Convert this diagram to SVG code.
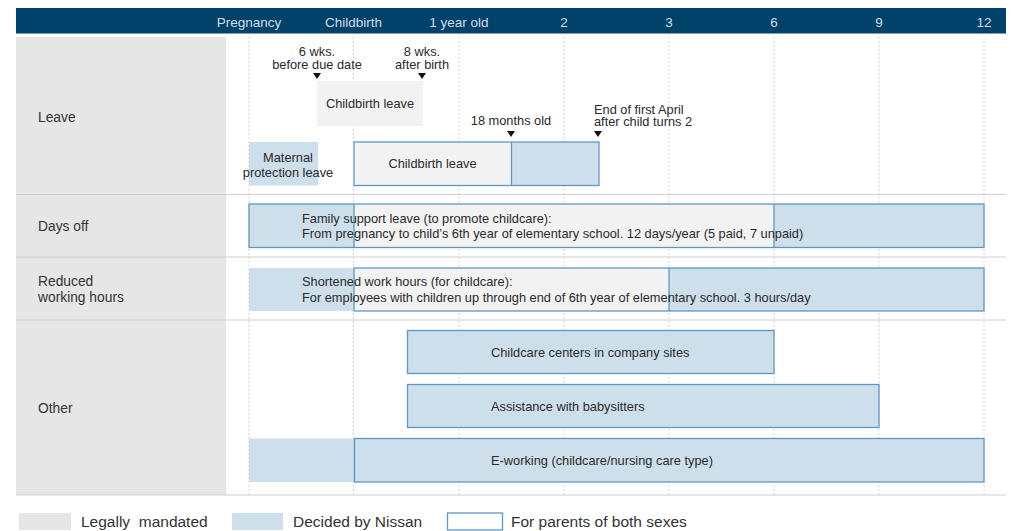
<svg xmlns="http://www.w3.org/2000/svg" width="1015" height="531" viewBox="0 0 1015 531">
<style>
text{font-family:"Liberation Sans",Arial,sans-serif;fill:#2a2a2a;font-size:12.8px}
.hd{fill:#d3dde6;font-size:13.5px;text-anchor:middle}
.lbl{font-size:13.8px;fill:#333}
.c{text-anchor:middle}
.leg{font-size:15.5px;fill:#333;white-space:pre}
.blue{fill:#cddfeb}
.gray{fill:#f2f2f2}
.bs{fill:none;stroke:#5c98c3;stroke-width:1.3}
.grid{stroke:#c4c4c4;stroke-width:1;stroke-dasharray:1.5 2.5}
.sep{stroke:#cfcfcf;stroke-width:1.2}
.tri{fill:#111}
</style>
<rect x="0" y="0" width="1015" height="531" fill="#fff"/>
<g id="header">
<rect x="16" y="8" width="990" height="25.5" fill="#00426a"/>
<text class="hd" x="249" y="26.5">Pregnancy</text>
<text class="hd" x="353.5" y="26.5">Childbirth</text>
<text class="hd" x="459" y="26.5">1 year old</text>
<text class="hd" x="564" y="26.5">2</text>
<text class="hd" x="669" y="26.5">3</text>
<text class="hd" x="774" y="26.5">6</text>
<text class="hd" x="879" y="26.5">9</text>
<text class="hd" x="984" y="26.5">12</text>
</g>
<g id="labels">
<rect x="16" y="37" width="210" height="458" fill="#e6e6e6"/>
<text class="lbl" x="38" y="121.5">Leave</text>
<text class="lbl" x="38" y="231">Days off</text>
<text class="lbl" x="38" y="286">Reduced</text>
<text class="lbl" x="38" y="302">working hours</text>
<text class="lbl" x="38" y="413">Other</text>
</g>
<g id="grid">
<line class="grid" x1="249" y1="37" x2="249" y2="495"/>
<line class="grid" x1="353.5" y1="37" x2="353.5" y2="495"/>
<line class="grid" x1="459" y1="37" x2="459" y2="495"/>
<line class="grid" x1="564" y1="37" x2="564" y2="495"/>
<line class="grid" x1="669" y1="37" x2="669" y2="495"/>
<line class="grid" x1="774" y1="37" x2="774" y2="495"/>
<line class="grid" x1="879" y1="37" x2="879" y2="495"/>
<line class="grid" x1="984" y1="37" x2="984" y2="495"/>
<line class="sep" x1="16" y1="194.5" x2="1006" y2="194.5"/>
<line class="sep" x1="16" y1="257" x2="1006" y2="257"/>
<line class="sep" x1="16" y1="320" x2="1006" y2="320"/>
<line class="sep" x1="16" y1="495" x2="1006" y2="495"/>
</g>
<g id="markers">
<path class="tri" d="M313 73h8l-4 6z"/>
<path class="tri" d="M418 73h8l-4 6z"/>
<path class="tri" d="M507 131h8l-4 6z"/>
<path class="tri" d="M594 131h8l-4 6z"/>
</g>
<g id="notes">
<text class="c" x="317" y="56">6 wks.</text>
<text class="c" x="317" y="69">before due date</text>
<text class="c" x="422" y="56">8 wks.</text>
<text class="c" x="422" y="69">after birth</text>
<text class="c" x="511" y="125">18 months old</text>
<text x="594" y="114">End of first April</text>
<text x="594" y="126">after child turns 2</text>
</g>
<g id="childbirth-leave-legal">
<rect class="gray" x="317" y="81" width="106" height="45"/>
<text class="c" x="370" y="108">Childbirth leave</text>
</g>
<g id="maternal-protection">
<rect class="blue" x="249" y="142" width="69" height="43.5"/>
<text class="c" x="288" y="162">Maternal</text>
<text class="c" x="288" y="177">protection leave</text>
</g>
<g id="childcare-leave">
<rect class="gray" x="354" y="142" width="157.5" height="43.5"/>
<rect class="blue" x="511.5" y="142" width="87.5" height="43.5"/>
<rect class="bs" x="354" y="142" width="245" height="43.5"/>
<line class="bs" x1="511.5" y1="142" x2="511.5" y2="185.5"/>
<text class="c" x="432.5" y="168">Childbirth leave</text>
</g>
<g id="family-support">
<rect class="blue" x="249" y="204" width="105" height="43.5"/>
<rect class="gray" x="354" y="204" width="420" height="43.5"/>
<rect class="blue" x="774" y="204" width="210" height="43.5"/>
<rect class="bs" x="249" y="204" width="735" height="43.5"/>
<line class="bs" x1="354" y1="204" x2="354" y2="247.5"/>
<line class="bs" x1="774" y1="204" x2="774" y2="247.5"/>
<text x="302" y="223">Family support leave (to promote childcare):</text>
<text x="302" y="238">From pregnancy to child’s 6th year of elementary school. 12 days/year (5 paid, 7 unpaid)</text>
</g>
<g id="shortened-hours">
<rect class="blue" x="249" y="268" width="105" height="43"/>
<rect class="gray" x="354" y="268" width="315" height="43"/>
<rect class="blue" x="669" y="268" width="315" height="43"/>
<rect class="bs" x="354" y="268" width="630" height="43"/>
<line class="bs" x1="669" y1="268" x2="669" y2="311"/>
<text x="302" y="286">Shortened work hours (for childcare):</text>
<text x="302" y="302">For employees with children up through end of 6th year of elementary school. 3 hours/day</text>
</g>
<g id="childcare-centers">
<rect class="blue" x="407.5" y="330.5" width="366.5" height="43"/>
<rect class="bs" x="407.5" y="330.5" width="366.5" height="43"/>
<text x="491" y="357">Childcare centers in company sites</text>
</g>
<g id="babysitters">
<rect class="blue" x="407.5" y="384.5" width="471.5" height="43"/>
<rect class="bs" x="407.5" y="384.5" width="471.5" height="43"/>
<text x="491" y="410.5">Assistance with babysitters</text>
</g>
<g id="e-working">
<rect class="blue" x="249" y="438.5" width="105" height="43.5"/>
<rect class="blue" x="354.5" y="438.5" width="629.5" height="43.5"/>
<rect class="bs" x="354.5" y="438.5" width="629.5" height="43.5"/>
<text x="491" y="465">E-working (childcare/nursing care type)</text>
</g>
<g id="legend">
<rect x="19" y="513" width="52" height="17" fill="#e6e6e6"/>
<text class="leg" x="81" y="527" xml:space="preserve">Legally  mandated</text>
<rect class="blue" x="232" y="513" width="51" height="17"/>
<text class="leg" x="293" y="527">Decided by Nissan</text>
<rect x="447.5" y="513" width="55" height="17" fill="#fff" stroke="#5c98c3" stroke-width="1.3"/>
<text class="leg" x="511" y="527">For parents of both sexes</text>
</g>
</svg>
